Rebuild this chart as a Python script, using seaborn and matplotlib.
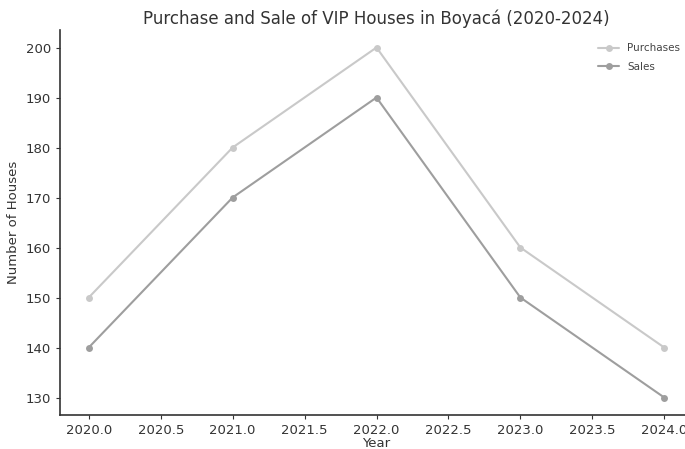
import pandas as pd
import numpy as np
import matplotlib.pyplot as plt
import seaborn as sns

years = [2020, 2021, 2022, 2023, 2024]
purchases = [150, 180, 200, 160, 140]
sales = [140, 170, 190, 150, 130]

df = pd.DataFrame({'Year': years + years,
                   'Houses': purchases + sales,
                   'Type': ['Purchases'] * 5 + ['Sales'] * 5})

sns.set_style("white")
plt.rcParams['font.family'] = ['DejaVu Sans']

fig = plt.figure(figsize=(6.85, 4.49), dpi=100)
ax = fig.add_axes([60 / 685, 1 - 415 / 449, 633 / 685, 385 / 449])

sns.lineplot(data=df, x='Year', y='Houses', hue='Type', marker='o',
             palette=['#c9c9c9', '#9e9e9e'], linewidth=1.5, markersize=5,
             markeredgewidth=0, ax=ax)

ax.set_xticks(np.arange(2020, 2024.5, 0.5))
ax.set_xticklabels([f"{v:.1f}" for v in np.arange(2020, 2024.5, 0.5)])
ax.tick_params(axis='both', labelsize=9.5, colors='#333333', length=3, direction='out', bottom=True, left=True)
for s in ['top', 'right']:
    ax.spines[s].set_visible(False)
for s in ['left', 'bottom']:
    ax.spines[s].set_color('#333333')
    ax.spines[s].set_linewidth(1.2)

ax.set_xlabel("Year", fontsize=9.5, color='#333333', labelpad=0)
ax.set_ylabel("Number of Houses", fontsize=9.5, color='#333333')
ax.set_title("Purchase and Sale of VIP Houses in Boyacá (2020-2024)", fontsize=12, color='#333333', pad=4)
leg = ax.legend(frameon=False, fontsize=7.5, loc='upper right', bbox_to_anchor=(0.995, 0.99),
                labelcolor='#444444', labelspacing=0.8)

plt.savefig("out.png", dpi=100)
